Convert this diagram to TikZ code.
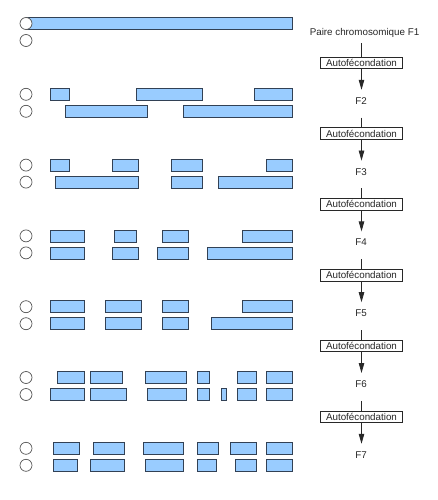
\documentclass[tikz,border=0pt]{standalone}
\usepackage{fontspec}
\setmainfont{Liberation Sans}
\usetikzlibrary{arrows.meta}
\definecolor{barfill}{RGB}{153,204,255}
\definecolor{barline}{RGB}{50,65,85}
\definecolor{cenline}{RGB}{85,85,85}
\definecolor{conn}{RGB}{40,40,40}
\newcommand\chrrow[3]{%
  \foreach \a/\b in {#2} {\draw[chrbar] (\a,#1) rectangle (\b,#1+12);}
  \foreach \a/\b in {#3} {\draw[chrbar] (\a,#1+17) rectangle (\b,#1+29);}
  \draw[cen] (26,#1+6) circle[radius=6bp];
  \draw[cen] (26,#1+23) circle[radius=6bp];
}
\begin{document}
\begin{tikzpicture}[x=1bp,y=-1bp,
  chrbar/.style={fill=barfill,draw=barline,line width=0.8bp},
  cen/.style={fill=white,draw=cenline,line width=0.7bp},
  lab/.style={inner sep=0pt,minimum height=20bp,font=\fontsize{9.8bp}{11bp}\selectfont,text=black!85},
  abox/.style={draw=conn,line width=0.7bp,fill=white,inner sep=0pt,minimum width=81.7bp,minimum height=11.5bp,font=\fontsize{9.8bp}{11bp}\selectfont,text=black!85},
  ln/.style={draw=conn,line width=0.7bp},
  arr/.style={draw=conn,line width=0.8bp,-{Triangle[width=5.5bp,length=10bp]}}]
\useasboundingbox (0,0) rectangle (438,500);
% F1
\draw[chrbar] (26,17.5) rectangle (292.7,29.5);
\draw[cen] (26,23.5) circle[radius=6bp];
\draw[cen] (26,40.5) circle[radius=6bp];
% F2
\chrrow{88.3}{50.7/69.3,136/202.3,254.3/292.7}{65.3/147.7,183.3/292.7}
% F3
\chrrow{159.1}{50.7/69.3,112.3/138.3,171.3/202.3,266/292.7}{55.7/138.3,171.3/202.3,218.3/292.7}
% F4
\chrrow{229.9}{50.7/84,114.3/136,162.3/188,242.3/292.7}{50.7/84,112.3/138.3,157.3/188,207.3/292.7}
% F5
\chrrow{300.7}{50.7/84,105.3/141,162.3/188,242.3/292.7}{50.7/84,105.3/141,162.3/188,211.3/292.7}
% F6
\chrrow{371.5}{57.7/84,90.7/122.3,145.3/186,197.3/209.3,237.7/256.7,266/292.7}{50.7/84,90.7/126.3,147.7/186,197.3/209.3,221/226.3,237.7/256.7,266/292.7}
% F7
\chrrow{442.3}{53.3/79.3,93.3/124.3,143.3/183.7,197.3/218.3,230.3/256.7,266/292.7}{53.3/77.3,90.7/124.3,145.3/183.7,197.3/216.7,235.3/256.7,266/292.7}
% right column
\node[lab] (F1) at (364.5,33.3) {Paire chromosomique F1};
\foreach \k in {2,...,7} {
  \node[lab] (F\k) at (361,{101+70.8*(\k-2)}) {F\k};
}
\foreach \k in {1,...,6} {
  \node[abox] (B\k) at (361.5,{62.8+70.8*(\k-1)}) {Autofécondation};
}
\draw[ln] (F1.south -| B1.north) -- (B1.north);
\foreach \k in {2,...,6} {
  \draw[ln,shorten <=6.5bp] (F\k.south -| B\k.north) -- (B\k.north);
}
\foreach \k [evaluate=\k as \n using int(\k+1)] in {1,...,6} {
  \draw[arr,shorten >=1bp] (B\k.south) -- (B\k.south |- F\n.north);
}
\end{tikzpicture}
\end{document}
